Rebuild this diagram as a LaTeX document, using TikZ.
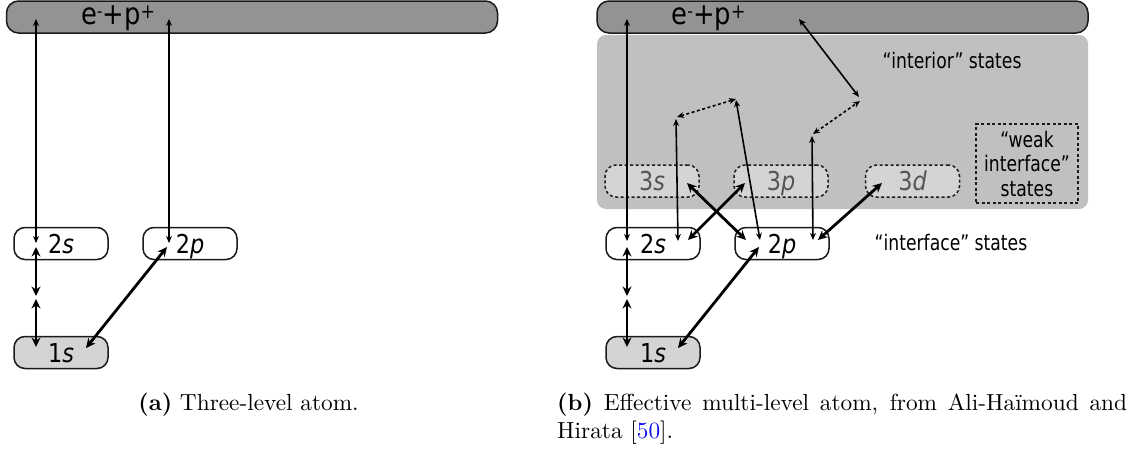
\documentclass[tikz,border=0pt]{standalone}
\usepackage{fontspec}
\usetikzlibrary{arrows.meta}
\newfontfamily\lblfont{DejaVu Sans}[FakeStretch=0.86]
\newfontfamily\notefont{DejaVu Sans}[FakeStretch=0.8]
\definecolor{barfill}{HTML}{939393}
\definecolor{regionfill}{HTML}{C0C0C0}
\definecolor{lowfill}{HTML}{D4D4D4}
\definecolor{outline}{HTML}{1A1A1A}
\definecolor{dimtext}{HTML}{555555}
\definecolor{citeblue}{HTML}{1010F0}
\newcommand{\supminus}{\raisebox{7pt}{\fontsize{18}{18}\selectfont -}}
\newcommand{\supplus}{\raisebox{6pt}{\fontsize{20}{20}\selectfont +}}
% captions are set at 10pt and enlarged as a whole
\newcommand{\capscale}[1]{\scalebox{2.33}{\fontsize{10}{12}\selectfont #1}}

\begin{document}
\begin{tikzpicture}[x=1pt,y=-1pt,
  level/.style={draw=outline, line width=1.5pt, rounded corners=11pt,
    minimum width=94pt, minimum height=32pt, inner sep=0pt,
    text height=19pt, text depth=0pt,
    font=\lblfont\fontsize{26}{30}\selectfont},
  ground/.style={level, fill=lowfill},
  excited/.style={level, fill=white},
  weaklevel/.style={level, fill=lowfill, dash pattern=on 3pt off 2.5pt, text=dimtext},
  continuum/.style={draw=outline, line width=1.5pt, fill=barfill, rounded corners=12pt,
    minimum width=491pt, minimum height=32pt, inner sep=0pt},
  bartext/.style={anchor=base, inner sep=0pt, font=\lblfont\fontsize{30}{34}\selectfont},
  note/.style={inner sep=0pt, align=center, font=\notefont\fontsize{21.5}{24.5}\selectfont},
  thinarr/.style={line width=1.6pt, draw=black,
    arrows={Stealth[length=7pt,width=6pt]-Stealth[length=7pt,width=6pt]}},
  dasharr/.style={thinarr, dash pattern=on 3pt off 2.5pt},
  thickarr/.style={line width=2.8pt, draw=black,
    arrows={Stealth[length=9.5pt,width=9pt]-Stealth[length=9.5pt,width=9pt]}},
  caption/.style={inner sep=0pt},
]
\useasboundingbox (0,0) rectangle (1141,450);

% ---------------- (a) three-level atom ----------------
\node[continuum] (contA) at (252,17) {};
\node[bartext] (contAtxt) at (118,24) {e\supminus+p\supplus};
\node[excited] (s2A) at (61,243.5) {2{\itshape s}};
\node[excited] (p2A) at (190,243.5) {2{\itshape p}};
\node[ground]  (s1A) at (61,352.5) {1{\itshape s}};

\coordinate (cA1) at (36,19);   \coordinate (s2Atop) at (36,243);
\coordinate (cA2) at (169,19);  \coordinate (p2Atop) at (169,243);
\coordinate (s2Abot) at (36,247); \coordinate (vA1) at (36,296);
\coordinate (vA2) at (36,299);    \coordinate (s1Atop) at (36,347);
\coordinate (p2Alow) at (167,247); \coordinate (s1Aright) at (86,348);

\draw[thinarr] (cA1) -- (s2Atop);
\draw[thinarr] (cA2) -- (p2Atop);
\draw[thickarr] (s2Abot) -- (vA1);
\draw[thickarr] (vA2) -- (s1Atop);
\draw[thickarr] (p2Alow) -- (s1Aright);

% ---------------- (b) effective multi-level atom ----------------
\node[fill=regionfill, rounded corners=9pt, minimum width=491pt, minimum height=174pt,
  inner sep=0pt] (interior) at (842.5,122) {};
\node[continuum] (contB) at (842.5,17) {};
\node[bartext] (contBtxt) at (708.5,24) {e\supminus+p\supplus};

\node[note, anchor=base] (intlabel) at (952,68) {“interior” states};
\node[note, draw=outline, line width=1.3pt, dash pattern=on 3pt off 2.5pt,
  minimum width=102pt, minimum height=79pt] (weakbox) at (1027,163.5)
  {“weak\\interface”\\states};
\node[note, anchor=base] (ifacelabel) at (951,250) {“interface” states};

\node[weaklevel] (s3) at (652,181) {3{\itshape s}};
\node[weaklevel] (p3) at (781,181) {3{\itshape p}};
\node[weaklevel] (d3) at (912.5,181) {3{\itshape d}};

\node[excited] (s2B) at (653,243.5) {2{\itshape s}};
\node[excited] (p2B) at (782,243.5) {2{\itshape p}};
\node[ground]  (s1B) at (653,352.5) {1{\itshape s}};

\coordinate (cB1) at (627,19);   \coordinate (s2Btop) at (627,241);
\coordinate (s2Bbot) at (627,247); \coordinate (vB1) at (627,296);
\coordinate (vB2) at (627,299);    \coordinate (s1Btop) at (627,347);
\coordinate (p2Blow) at (759,247); \coordinate (s1Bright) at (678,348);

% intermediate points among the interior states
\coordinate (q1) at (676,119);
\coordinate (q2) at (736,99);
\coordinate (q3) at (860,99);
\coordinate (q4) at (812,136);
\coordinate (cB2) at (799,19);

\coordinate (s2Bin) at (678,241);
\coordinate (p2Bl) at (760,240);
\coordinate (p2Br) at (813,240);

\draw[thinarr] (cB1) -- (s2Btop);
\draw[thickarr] (s2Bbot) -- (vB1);
\draw[thickarr] (vB2) -- (s1Btop);
\draw[thickarr] (p2Blow) -- (s1Bright);

\draw[thinarr] (s2Bin) -- (q1);
\draw[dasharr] ([shift={(1,-2)}]q1) -- (q2);
\draw[thinarr] ([shift={(0,1)}]q2) -- (p2Bl);
\draw[thinarr] (p2Br) -- (q4);
\draw[dasharr] ([shift={(1,-2)}]q4) -- ([shift={(0,2)}]q3);
\draw[thinarr] ([shift={(-1,-2)}]q3) -- (cB2);

\coordinate (s3in) at (687,183);  \coordinate (p2Bin) at (746,240);
\coordinate (s2Bout) at (688,240); \coordinate (p3in) at (745,183);
\coordinate (p2Bout) at (818,240); \coordinate (d3in) at (882,183);
\draw[thickarr] (s3in) -- (p2Bin);
\draw[thickarr] (s2Bout) -- (p3in);
\draw[thickarr] (p2Bout) -- (d3in);

% ---------------- captions ----------------
\node[caption, anchor=base] (capA) at (248.5,410)
  {\capscale{\textbf{(a)} Three-level atom.}};
\node[caption, anchor=base west] (capB1) at (557,410)
  {\capscale{\makebox[244.6pt][s]{\textbf{(b)} Effective multi-level atom, from Ali-Haïmoud and}}};
\node[caption, anchor=base west] (capB2) at (557,438)
  {\capscale{Hirata [\textcolor{citeblue}{50}].}};
\end{tikzpicture}
\end{document}
